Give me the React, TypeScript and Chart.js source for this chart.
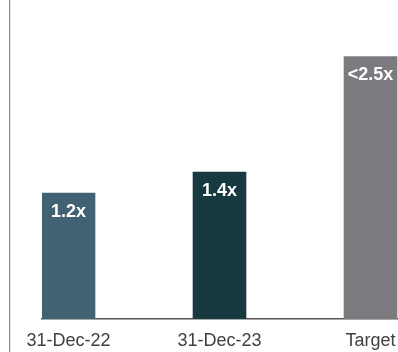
import React, { useEffect, useRef } from "react";
import { Chart, registerables } from "chart.js";

Chart.register(...registerables);

const categories = ["31-Dec-22", "31-Dec-23", "Target"];
const values = [1.2, 1.4, 2.5];
const valueLabels = ["1.2x", "1.4x", "<2.5x"];
const barColors = ["#406272", "#163a40", "#7a7a7f"];

const FONT = "'Liberation Sans', Arial, Helvetica, sans-serif";

const frameLine = {
  id: "frameLine",
  beforeDraw(chart: any) {
    const ctx = chart.ctx;
    ctx.save();
    ctx.fillStyle = "#8c8c8c";
    ctx.fillRect(9, 0, 1.2, chart.height);
    ctx.restore();
  },
};

const barLabels = {
  id: "barLabels",
  afterDatasetsDraw(chart: any) {
    const ctx = chart.ctx;
    const meta = chart.getDatasetMeta(0);
    ctx.save();
    ctx.fillStyle = "#ffffff";
    ctx.font = `bold 18px ${FONT}`;
    ctx.textAlign = "center";
    ctx.textBaseline = "middle";
    meta.data.forEach((bar: any, i: number) => {
      ctx.fillText(valueLabels[i], bar.x, bar.y + 19);
    });
    ctx.restore();
  },
};

export default function App() {
  const ref = useRef<HTMLCanvasElement>(null);

  useEffect(() => {
    if (!ref.current) return;
    const chart = new Chart(ref.current, {
      type: "bar",
      data: {
        datasets: [
          {
            data: values.map((v, i) => ({ x: i, y: v })),
            backgroundColor: barColors,
            borderWidth: 0,
            barThickness: 53,
          },
        ],
      },
      options: {
        animation: false,
        responsive: false,
        devicePixelRatio: 1,
        layout: { padding: { left: 42, right: 0, top: 4, bottom: -11 } },
        plugins: {
          legend: { display: false },
          tooltip: { enabled: false },
        },
        scales: {
          x: {
            type: "linear",
            offset: false,
            min: -0.1755,
            max: 2.182,
            grid: { display: false, drawTicks: false, offset: false },
            border: { display: true, color: "#555555", width: 1.5 },
            afterBuildTicks: (axis: any) => {
              axis.ticks = categories.map((_, i) => ({ value: i }));
            },
            ticks: {
              padding: 0,
              color: "#404040",
              font: { family: FONT, size: 18, lineHeight: "44px" },
              maxRotation: 0,
              autoSkip: false,
              callback: (v: any) => categories[v as number] ?? "",
            },
          },
          y: {
            display: false,
            min: 0,
            max: 3,
          },
        },
      },
      plugins: [frameLine, barLabels],
    });
    return () => chart.destroy();
  }, []);

  return (
    <div style={{ position: "fixed", left: 0, top: 0, width: 398, height: 352, background: "#fff" }}>
      <canvas ref={ref} width={398} height={352} style={{ display: "block" }} />
    </div>
  );
}
